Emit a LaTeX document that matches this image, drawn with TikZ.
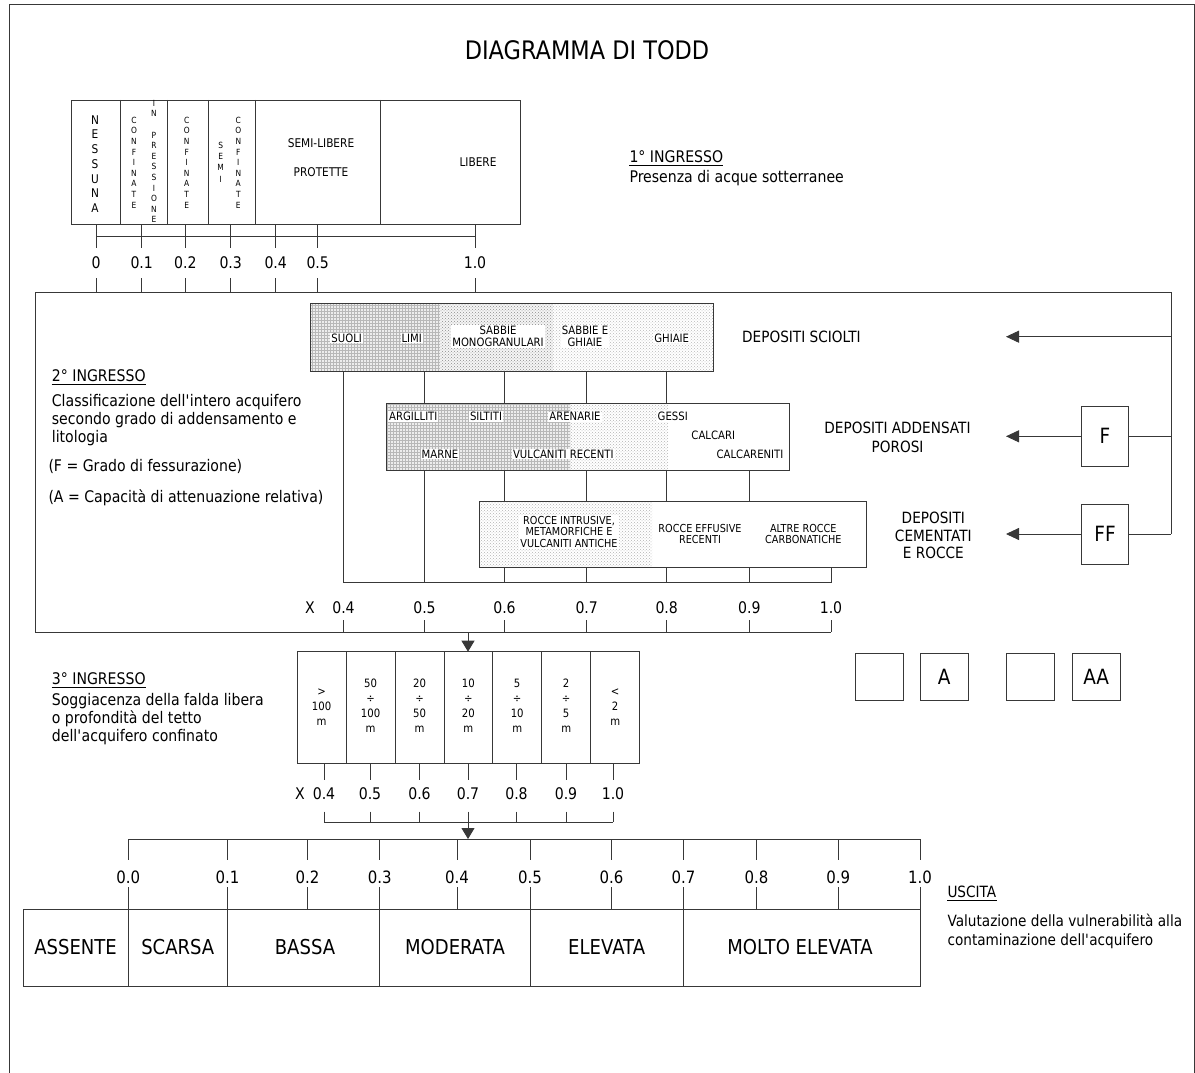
\documentclass[tikz,border=0pt]{standalone}
\usepackage{fontspec}
\setmainfont{DejaVu Sans}[FakeStretch=0.88]
\usetikzlibrary{arrows.meta,patterns}
\newcommand\myfs[2]{\fontsize{#1}{#2}\selectfont}
\newcommand\ap{\textquotesingle}
\begin{document}
\begin{tikzpicture}[x=1pt,y=-1pt,
  ln/.style={draw=black!78,line width=0.9pt},
  tx/.style={inner sep=0pt,text=black},
  arrR/.style={-{Triangle[length=13pt,width=12pt]}},
  arrD/.style={-{Triangle[length=11pt,width=13pt]}},
  lbl/.style={tx,fill=white,inner sep=1pt,font=\myfs{11.5}{12.5},align=center},
  vt/.style={tx,font=\myfs{8.5}{10.6},align=center},
  dig/.style={tx,font=\myfs{16}{18}},
  desc/.style={tx,font=\myfs{16}{18.3},anchor=west},
  head/.style={tx,font=\myfs{16}{18.3},anchor=base west},
  sqbox/.style={ln,inner sep=0pt,font=\myfs{21}{24}}
]
\useasboundingbox (0,0) rectangle (1195,1073);
% outer frame
\draw[ln] (9,1080) -- (9,4) -- (1194,4) -- (1194,1080);
% title
\node[tx,font=\myfs{25.5}{30}] (title) at (587,50) {DIAGRAMMA DI TODD};

% ---------- 1st input ----------
\draw[ln] (71.5,100) rectangle (520,224);
\foreach \x in {120.7,167,208.7,255,380} \draw[ln] (\x,100) -- (\x,224);
\node[tx,font=\myfs{12}{14.7},align=center] (nes) at (95,164) {N\\E\\S\\S\\U\\N\\A};
\node[vt] (conf1) at (134,162.5) {C\\O\\N\\F\\I\\N\\A\\T\\E};
\node[vt] (inpr) at (154,161.5) {I\\N\\~\\P\\R\\E\\S\\S\\I\\O\\N\\E};
\node[vt] (conf2) at (186.7,162.5) {C\\O\\N\\F\\I\\N\\A\\T\\E};
\node[tx,font=\myfs{8.5}{11.3},align=center] (semi) at (220.7,162) {S\\E\\M\\I};
\node[vt] (conf3) at (238.3,162.5) {C\\O\\N\\F\\I\\N\\A\\T\\E};
\node[tx,font=\myfs{12}{14}] (sl) at (321,143) {SEMI-LIBERE};
\node[tx,font=\myfs{12}{14}] (prot) at (321,172) {PROTETTE};
\node[tx,font=\myfs{12}{14}] (lib) at (478,162) {LIBERE};

\foreach \x in {96,141.7,185.3,230.7,275.7,317.7,475} {
  \draw[ln] (\x,224) -- (\x,248);
  \draw[ln] (\x,278) -- (\x,292);
}
\draw[ln] (96,236) -- (475,236);
\foreach \x/\t [count=\i] in {96/0,141.7/0.1,185.3/0.2,230.7/0.3,275.7/0.4,317.7/0.5,475/1.0}
  \node[dig] (sa\i) at (\x,263) {\t};

\node[head] (h1) at (629.3,162.5) {1° INGRESSO};
\draw[line width=0.8pt] ([yshift=-3pt]h1.base west) -- ([yshift=-3pt]h1.base east);
\node[desc] (d1) at (629.3,178.5) {Presenza di acque sotterranee};

% ---------- 2nd input ----------
\draw[ln] (1171,292) -- (35,292) -- (35,632) -- (831,632);
\draw[ln] (1171,292) -- (1171,534);

\node[head] (h2) at (51.7,381) {2° INGRESSO};
\draw[line width=0.8pt] ([yshift=-3.5pt]h2.base west) -- ([yshift=-3.5pt]h2.base east);
\node[desc] (d2a) at (51.7,401.7) {Classificazione dell\ap intero acquifero};
\node[desc] (d2b) at (51.7,420) {secondo grado di addensamento e};
\node[desc] (d2c) at (51.7,438.3) {litologia};
\node[desc] (d2d) at (48.3,466.7) {(F = Grado di fessurazione)};
\node[desc] (d2e) at (48.3,497.3) {(A = Capacità di attenuazione relativa)};

% depositi sciolti
\fill[black!7] (310,303.3) rectangle (440,371.7);
\fill[pattern=grid,pattern color=black!28] (310,303.3) rectangle (440,371.7);
\fill[black!4] (440,303.3) rectangle (553,371.7);
\fill[pattern=crosshatch dots,pattern color=black!45] (440,303.3) rectangle (553,371.7);
\fill[pattern=crosshatch dots,pattern color=black!28] (553,303.3) rectangle (713,371.7);
\draw[ln] (310,303.3) rectangle (713,371.7);
\node[lbl] (suoli) at (346.7,338) {SUOLI};
\node[lbl] (limi) at (411.7,338) {LIMI};
\node[lbl] (sabm) at (498,336.5) {SABBIE\\MONOGRANULARI};
\node[lbl] (sabg) at (585,336.5) {SABBIE E\\GHIAIE};
\node[lbl] (ghi) at (671.7,338) {GHIAIE};

% depositi addensati
\fill[black!7] (386,403.3) rectangle (570,470);
\fill[pattern=grid,pattern color=black!28] (386,403.3) rectangle (570,470);
\fill[pattern=crosshatch dots,pattern color=black!30] (570,403.3) rectangle (668,470);
\draw[ln] (386,403.3) rectangle (789.3,470);
\node[lbl] (arg) at (413.3,416.7) {ARGILLITI};
\node[lbl] (sil) at (486,416.7) {SILTITI};
\node[lbl] (are) at (575,416.7) {ARENARIE};
\node[lbl] (ges) at (672.7,416.7) {GESSI};
\node[lbl] (cal) at (713.3,435) {CALCARI};
\node[lbl] (mar) at (440,454) {MARNE};
\node[lbl] (vulr) at (563.3,454) {VULCANITI RECENTI};
\node[lbl] (calc) at (750,454) {CALCARENITI};

% depositi cementati
\fill[pattern=crosshatch dots,pattern color=black!30] (479.3,501) rectangle (652,567.7);
\draw[ln] (479.3,501) rectangle (866.7,567.7);
\node[lbl,font=\myfs{11}{11.7}] (rint) at (569,531.7) {ROCCE INTRUSIVE,\\METAMORFICHE E\\VULCANITI ANTICHE};
\node[lbl,font=\myfs{11}{11.7}] (reff) at (700,534) {ROCCE EFFUSIVE\\RECENTI};
\node[lbl,font=\myfs{11}{11.7}] (arc) at (803.3,534) {ALTRE ROCCE\\CARBONATICHE};

% vertical value lines
\draw[ln] (343.5,371.7) -- (343.5,582.5);
\draw[ln] (424.5,371.7) -- (424.5,403.3) (424.5,470) -- (424.5,582.5);
\foreach \x in {504.5,586.7,666.7}
  \draw[ln] (\x,371.7) -- (\x,403.3) (\x,470) -- (\x,501) (\x,567.7) -- (\x,582.5);
\draw[ln] (749.3,470) -- (749.3,501) (749.3,567.7) -- (749.3,582.5);
\draw[ln] (831,567.7) -- (831,582.5);
\draw[ln] (343.5,582.5) -- (831,582.5);
\node[dig] (x2) at (310,607.5) {X};
\foreach \x/\t [count=\i] in {343.5/0.4,424.5/0.5,504.5/0.6,586.7/0.7,666.7/0.8,749.3/0.9,831/1.0} {
  \node[dig] (sb\i) at (\x,607.5) {\t};
  \draw[ln] (\x,620) -- (\x,632);
}

% right side labels and arrows
\node[tx,font=\myfs{15.5}{18},anchor=west] (dsc) at (742,336.7) {DEPOSITI SCIOLTI};
\node[tx,font=\myfs{15.5}{18.4},align=center] (dad) at (897.5,437.5) {DEPOSITI ADDENSATI\\POROSI};
\node[tx,font=\myfs{15.5}{17.5},align=center] (dce) at (933.3,535.8) {DEPOSITI\\CEMENTATI\\E ROCCE};
\node[sqbox,minimum width=46.6pt,minimum height=60.7pt] (F) at (1105,436.3) {F};
\node[sqbox,minimum width=46.6pt,minimum height=60pt] (FF) at (1105,534) {FF};
\draw[ln,arrR] (1171,336.7) -- (1006,336.7);
\draw[ln] (1171,436.3) -- (F.east);
\draw[ln,arrR] (F.west) -- (1006,436.3);
\draw[ln] (1171,534) -- (FF.east);
\draw[ln,arrR] (FF.west) -- (1006,534);

% arrow to 3rd input
\draw[ln,arrD] (468,632) -- (468,651.7);

% ---------- 3rd input ----------
\node[head] (h3) at (51.7,684) {3° INGRESSO};
\draw[line width=0.8pt] ([yshift=-3.5pt]h3.base west) -- ([yshift=-3.5pt]h3.base east);
\node[desc] (d3a) at (51.7,701) {Soggiacenza della falda libera};
\node[desc] (d3b) at (51.7,719) {o profondità del tetto};
\node[desc] (d3c) at (51.7,737) {dell\ap acquifero confinato};

\draw[ln] (297.3,651.7) rectangle (639.7,763.3);
\foreach \x in {346,395.3,444,492.7,541.7,590.7} \draw[ln] (\x,651.7) -- (\x,763.3);
\node[tx,font=\myfs{11.5}{15},align=center] (c1) at (321.6,706.7) {>\\100\\m};
\node[tx,font=\myfs{11.5}{15},align=center] (c2) at (370.6,705.8) {50\\÷\\100\\m};
\node[tx,font=\myfs{11.5}{15},align=center] (c3) at (419.6,705.8) {20\\÷\\50\\m};
\node[tx,font=\myfs{11.5}{15},align=center] (c4) at (468.3,705.8) {10\\÷\\20\\m};
\node[tx,font=\myfs{11.5}{15},align=center] (c5) at (517.2,705.8) {5\\÷\\10\\m};
\node[tx,font=\myfs{11.5}{15},align=center] (c6) at (566.2,705.8) {2\\÷\\5\\m};
\node[tx,font=\myfs{11.5}{15},align=center] (c7) at (615.2,706.7) {<\\2\\m};

\node[dig] (x3) at (300,793.3) {X};
\foreach \x/\t [count=\i] in {324/0.4,370/0.5,419.5/0.6,468/0.7,516.5/0.8,566/0.9,613/1.0} {
  \draw[ln] (\x,763.3) -- (\x,780);
  \node[dig] (sc\i) at (\x,793.3) {\t};
  \draw[ln] (\x,811.7) -- (\x,822);
}
\draw[ln] (324,822) -- (613,822);
\draw[ln,arrD] (468,822) -- (468,839);

% A boxes
\node[sqbox,minimum width=48.3pt,minimum height=47.4pt] (a1) at (879.2,677) {};
\node[sqbox,minimum width=48.3pt,minimum height=47.4pt] (a2) at (944.2,677) {A};
\node[sqbox,minimum width=47.6pt,minimum height=47.4pt] (a3) at (1030.5,677) {};
\node[sqbox,minimum width=47.7pt,minimum height=47.4pt] (a4) at (1096.2,677) {AA};

% ---------- output ----------
\draw[ln] (128.3,839) -- (920,839);
\foreach \x/\t [count=\i] in {128.3/0.0,227.4/0.1,307.4/0.2,379.7/0.3,457/0.4,530/0.5,611.4/0.6,683.5/0.7,756.4/0.8,838.3/0.9,920/1.0} {
  \draw[ln] (\x,839) -- (\x,860);
  \node[tx,font=\myfs{17}{20}] (so\i) at (\x,877.4) {\t};
  \draw[ln] (\x,887) -- (\x,909);
}
\draw[ln] (23,909) rectangle (920,986.5);
\foreach \x in {128.3,227.4,379.7,530,683.5} \draw[ln] (\x,909) -- (\x,986.5);
\node[tx,font=\myfs{20.5}{24}] (o1) at (75.6,947.5) {ASSENTE};
\node[tx,font=\myfs{20.5}{24}] (o2) at (177.8,947.5) {SCARSA};
\node[tx,font=\myfs{20.5}{24}] (o3) at (305,947.5) {BASSA};
\node[tx,font=\myfs{20.5}{24}] (o4) at (455,947.5) {MODERATA};
\node[tx,font=\myfs{20.5}{24}] (o5) at (606.7,947.5) {ELEVATA};
\node[tx,font=\myfs{20.5}{24}] (o6) at (800,947.5) {MOLTO ELEVATA};

\node[head,font=\myfs{15.5}{18}] (h4) at (947.3,897.5) {USCITA};
\draw[line width=0.8pt] ([yshift=-3pt]h4.base west) -- ([yshift=-3pt]h4.base east);
\node[desc,font=\myfs{15.5}{18}] (d4a) at (947.3,920.6) {Valutazione della vulnerabilità alla};
\node[desc,font=\myfs{15.5}{18}] (d4b) at (947.3,941.4) {contaminazione dell\ap acquifero};
\end{tikzpicture}
\end{document}
